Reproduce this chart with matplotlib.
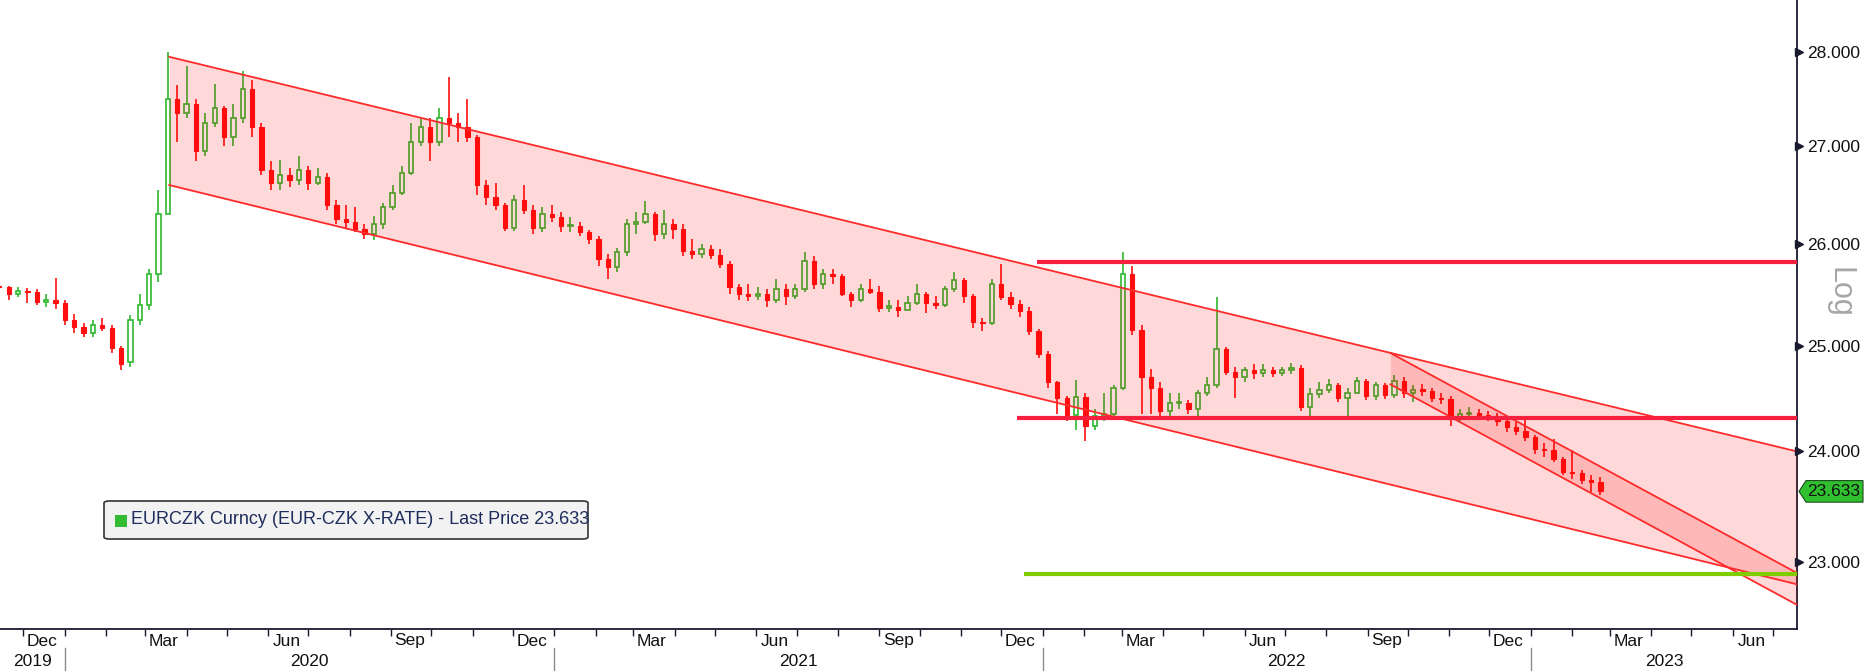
import matplotlib
matplotlib.use("Agg")
import matplotlib.pyplot as plt
import matplotlib.dates as mdates
import matplotlib.transforms as mtransforms
from matplotlib.patches import Polygon, FancyBboxPatch, Rectangle
import numpy as np
import pandas as pd

# ---------------- data (weekly OHLC) ----------------
first_week = "2019-11-11"
opens = [25.58, 25.57, 25.50, 25.53, 25.52, 25.43, 25.45, 25.42, 25.25, 25.18,
         25.12, 25.20, 25.17, 24.98, 24.84, 25.25, 25.40, 25.70, 26.30, 27.50,
         27.35, 27.45, 26.95, 27.25, 27.40, 27.10, 27.30, 27.60, 27.20, 26.75,
         26.62, 26.70, 26.65, 26.75, 26.62, 26.68, 26.40, 26.25, 26.22, 26.15,
         26.10, 26.20, 26.38, 26.52, 26.72, 27.05, 27.20, 27.05, 27.30, 27.25,
         27.20, 27.10, 26.60, 26.48, 26.40, 26.16, 26.45, 26.35, 26.16, 26.30,
         26.27, 26.18, 26.18, 26.12, 26.05, 25.85, 25.77, 25.92, 26.20, 26.22,
         26.30, 26.10, 26.20, 26.15, 25.93, 25.90, 25.95, 25.89, 25.80, 25.57,
         25.50, 25.48, 25.50, 25.45, 25.55, 25.48, 25.55, 25.83, 25.60, 25.70,
         25.68, 25.50, 25.45, 25.55, 25.52, 25.37, 25.38, 25.35, 25.42, 25.50,
         25.42, 25.40, 25.55, 25.64, 25.48, 25.23, 25.22, 25.60, 25.47, 25.41,
         25.34, 25.14, 24.92, 24.65, 24.50, 24.34, 24.51, 24.24, 24.33, 24.35,
         24.60, 25.70, 25.15, 24.70, 24.60, 24.38, 24.45, 24.45, 24.40, 24.55,
         24.62, 24.97, 24.75, 24.70, 24.77, 24.74, 24.77, 24.74, 24.77, 24.79,
         24.42, 24.54, 24.58, 24.62, 24.50, 24.55, 24.66, 24.52, 24.62, 24.53,
         24.66, 24.55, 24.58, 24.57, 24.50, 24.49, 24.30, 24.35, 24.36, 24.34,
         24.32, 24.28, 24.23, 24.19, 24.13, 24.02, 24.01, 23.93, 23.81, 23.80,
         23.74, 23.72]
highs = [25.62, 25.58, 25.57, 25.56, 25.55, 25.50, 25.66, 25.45, 25.31, 25.22,
         25.25, 25.27, 25.20, 25.00, 25.30, 25.50, 25.75, 26.55, 28.00, 27.65,
         27.85, 27.50, 27.35, 27.66, 27.42, 27.45, 27.80, 27.70, 27.25, 26.85,
         26.86, 26.78, 26.90, 26.80, 26.78, 26.72, 26.45, 26.40, 26.38, 26.20,
         26.28, 26.42, 26.60, 26.80, 27.25, 27.30, 27.30, 27.40, 27.73, 27.35,
         27.50, 27.12, 26.65, 26.62, 26.42, 26.50, 26.60, 26.40, 26.38, 26.40,
         26.32, 26.27, 26.22, 26.14, 26.08, 25.90, 25.96, 26.25, 26.32, 26.44,
         26.32, 26.35, 26.25, 26.20, 26.05, 26.00, 25.99, 25.95, 25.83, 25.60,
         25.60, 25.57, 25.55, 25.65, 25.60, 25.60, 25.92, 25.88, 25.75, 25.75,
         25.70, 25.52, 25.60, 25.65, 25.58, 25.45, 25.45, 25.48, 25.60, 25.52,
         25.48, 25.58, 25.72, 25.66, 25.50, 25.27, 25.65, 25.80, 25.52, 25.45,
         25.38, 25.16, 24.95, 24.66, 24.52, 24.67, 24.55, 24.40, 24.55, 24.62,
         25.92, 25.78, 25.20, 24.78, 24.65, 24.55, 24.55, 24.48, 24.58, 24.70,
         25.47, 24.99, 24.80, 24.80, 24.82, 24.82, 24.80, 24.80, 24.83, 24.81,
         24.60, 24.65, 24.68, 24.64, 24.60, 24.70, 24.68, 24.65, 24.64, 24.72,
         24.70, 24.62, 24.63, 24.60, 24.55, 24.52, 24.40, 24.42, 24.40, 24.38,
         24.36, 24.30, 24.27, 24.32, 24.15, 24.08, 24.12, 23.95, 24.01, 23.83,
         23.78, 23.76]
lows = [25.52, 25.45, 25.47, 25.42, 25.40, 25.38, 25.36, 25.20, 25.12, 25.08,
        25.08, 25.14, 24.93, 24.77, 24.80, 25.20, 25.35, 25.62, 26.30, 27.05,
        27.30, 26.85, 26.90, 27.20, 27.00, 27.00, 27.25, 27.10, 26.70, 26.55,
        26.55, 26.58, 26.60, 26.55, 26.60, 26.35, 26.20, 26.15, 26.12, 26.05,
        26.04, 26.15, 26.35, 26.50, 26.70, 27.00, 26.85, 27.00, 27.10, 27.05,
        27.05, 26.50, 26.40, 26.35, 26.13, 26.13, 26.30, 26.10, 26.12, 26.22,
        26.12, 26.12, 26.08, 26.00, 25.78, 25.65, 25.72, 25.88, 26.10, 26.20,
        26.03, 26.05, 26.05, 25.88, 25.85, 25.86, 25.85, 25.76, 25.50, 25.45,
        25.44, 25.45, 25.38, 25.42, 25.40, 25.46, 25.52, 25.55, 25.55, 25.60,
        25.48, 25.38, 25.43, 25.50, 25.33, 25.33, 25.28, 25.35, 25.40, 25.32,
        25.36, 25.38, 25.52, 25.42, 25.17, 25.14, 25.20, 25.45, 25.36, 25.28,
        25.10, 24.88, 24.60, 24.35, 24.28, 24.20, 24.10, 24.20, 24.28, 24.30,
        24.58, 25.10, 24.35, 24.35, 24.32, 24.33, 24.40, 24.35, 24.32, 24.52,
        24.60, 24.72, 24.50, 24.65, 24.68, 24.70, 24.70, 24.71, 24.73, 24.38,
        24.30, 24.50, 24.55, 24.46, 24.30, 24.55, 24.48, 24.48, 24.49, 24.50,
        24.50, 24.46, 24.52, 24.46, 24.44, 24.24, 24.28, 24.30, 24.30, 24.28,
        24.24, 24.18, 24.15, 24.10, 23.98, 23.95, 23.90, 23.78, 23.75, 23.70,
        23.63, 23.60]
closes = [25.57, 25.50, 25.53, 25.52, 25.43, 25.45, 25.42, 25.25, 25.18, 25.12,
          25.20, 25.17, 24.98, 24.82, 25.25, 25.40, 25.70, 26.30, 27.50, 27.35,
          27.45, 26.95, 27.25, 27.40, 27.10, 27.30, 27.60, 27.20, 26.75, 26.62,
          26.70, 26.65, 26.75, 26.62, 26.68, 26.40, 26.25, 26.22, 26.15, 26.10,
          26.20, 26.38, 26.52, 26.72, 27.05, 27.20, 27.05, 27.30, 27.25, 27.20,
          27.10, 26.60, 26.48, 26.40, 26.16, 26.45, 26.35, 26.16, 26.30, 26.27,
          26.18, 26.18, 26.12, 26.05, 25.85, 25.77, 25.92, 26.20, 26.22, 26.30,
          26.10, 26.20, 26.15, 25.93, 25.90, 25.95, 25.89, 25.80, 25.57, 25.50,
          25.48, 25.50, 25.45, 25.55, 25.48, 25.55, 25.83, 25.60, 25.70, 25.68,
          25.50, 25.45, 25.55, 25.52, 25.37, 25.38, 25.35, 25.42, 25.50, 25.42,
          25.40, 25.55, 25.64, 25.48, 25.23, 25.22, 25.60, 25.47, 25.41, 25.34,
          25.14, 24.92, 24.65, 24.50, 24.34, 24.51, 24.24, 24.33, 24.35, 24.60,
          25.70, 25.15, 24.70, 24.60, 24.38, 24.45, 24.45, 24.40, 24.55, 24.62,
          24.97, 24.75, 24.70, 24.77, 24.74, 24.77, 24.74, 24.77, 24.79, 24.42,
          24.54, 24.58, 24.62, 24.50, 24.55, 24.66, 24.52, 24.62, 24.53, 24.66,
          24.55, 24.58, 24.57, 24.50, 24.49, 24.30, 24.35, 24.36, 24.34, 24.32,
          24.28, 24.23, 24.19, 24.13, 24.02, 24.01, 23.93, 23.81, 23.80, 23.74,
          23.72, 23.633]
last_price = 23.633
series_label = "EURCZK Curncy (EUR-CZK X-RATE) - Last Price 23.633"

# trend channel (drawn annotations)
channel_dates = ["2020-03-19", "2023-07-19"]
channel_upper = [27.95, 24.00]
channel_lower = [26.60, 22.80]
wedge_dates = ["2022-09-18", "2023-07-19"]
wedge_upper = [24.93, 22.90]
wedge_lower = [24.63, 22.62]
level_starts = ["2021-12-28", "2021-12-13", "2021-12-18"]
level_values = [25.82, 24.31, 22.89]
level_colors = ["#f7203f", "#f7203f", "#7fcc00"]

y_ticks = [23, 24, 25, 26, 27, 28]
x_range = ["2019-11-13 12:00", "2023-07-19 00:00"]
y_range = [22.41, 28.57]

# ---------------- figure ----------------
W, H = 1865, 671
fig = plt.figure(figsize=(W / 100, H / 100), dpi=100)
ax = fig.add_axes([0, 42 / H, 1797 / W, 629 / H])
FONT = "Liberation Sans"
DARK = "#1a1a2e"

dates = pd.date_range(first_week, periods=len(closes), freq="7D") + pd.Timedelta(days=2)
xd = mdates.date2num(dates)
o = np.array(opens); h = np.array(highs); l = np.array(lows); c = np.array(closes)
up = c >= o
GREEN = "#2fb82f"
RED = "#ff1010"
ax.vlines(xd[up], l[up], h[up], color=GREEN, lw=1.2, zorder=2)
ax.vlines(xd[~up], l[~up], h[~up], color=RED, lw=1.2, zorder=2)
bw = 3.2
ax.bar(xd[up], np.maximum(c[up] - o[up], 0.012), bottom=o[up], width=bw,
       facecolor="white", edgecolor=GREEN, lw=1.2, zorder=3)
ax.bar(xd[~up], np.maximum(o[~up] - c[~up], 0.012), bottom=c[~up], width=bw,
       facecolor=RED, edgecolor=RED, lw=0.8, zorder=3)

# channel + wedge (fill drawn above candles, translucent)
cd = mdates.date2num(pd.to_datetime(channel_dates))
ax.fill_between(cd, channel_lower, channel_upper, color="red", alpha=0.15, lw=0, zorder=4)
ax.plot(cd, channel_upper, color="#ff2a2a", lw=1.3, zorder=5)
ax.plot(cd, channel_lower, color="#ff2a2a", lw=1.3, zorder=5)
wd = mdates.date2num(pd.to_datetime(wedge_dates))
ax.fill_between(wd, wedge_lower, wedge_upper, color="red", alpha=0.15, lw=0, zorder=4)
ax.plot(wd, wedge_upper, color="#ff2a2a", lw=1.3, zorder=5)
ax.plot(wd, wedge_lower, color="#ff2a2a", lw=1.3, zorder=5)

xr = mdates.date2num(pd.to_datetime(x_range))
for s, v, col in zip(level_starts, level_values, level_colors):
    ax.hlines(v, mdates.date2num(pd.Timestamp(s)), xr[1], color=col, lw=3, zorder=6)

ax.set_xlim(xr)
ax.set_yscale("log")
ax.set_ylim(y_range)

# spines
for s in ["left", "top"]:
    ax.spines[s].set_visible(False)
for s in ["right", "bottom"]:
    ax.spines[s].set_color(DARK)
    ax.spines[s].set_linewidth(1.3)

# y axis on right
ax.yaxis.tick_right()
ax.yaxis.set_major_locator(matplotlib.ticker.FixedLocator(y_ticks))
ax.yaxis.set_minor_locator(matplotlib.ticker.NullLocator())
ax.set_yticklabels([f"{t:.3f}" for t in y_ticks])
ax.tick_params(axis="y", length=0, pad=7.5, labelsize=12.5, labelcolor="#111111")
for lab in ax.get_yticklabels():
    lab.set_fontfamily(FONT)
ytrans = mtransforms.blended_transform_factory(ax.transAxes, ax.transData)
ax.plot([1.0012] * len(y_ticks), y_ticks, ls="none", marker=">", ms=5.5, color=DARK,
        transform=ytrans, clip_on=False, zorder=10)

# x axis: monthly ticks, quarterly labels mid-month, years below
ax.xaxis.set_major_locator(mdates.MonthLocator())
ax.xaxis.set_minor_locator(matplotlib.ticker.NullLocator())
ax.tick_params(axis="x", length=5, width=1, color=DARK, labelbottom=False)
xtrans = mtransforms.blended_transform_factory(ax.transData, fig.transFigure)
months = pd.date_range("2019-12-01", "2023-06-01", freq="3MS")
for m in months:
    ax.text(mdates.date2num(m + pd.Timedelta(days=14)), 1 - 641 / H, m.strftime("%b"),
            transform=xtrans, ha="center", va="center", fontsize=12.5, family=FONT,
            color="#111111", clip_on=False)
years = [2019, 2020, 2021, 2022, 2023]
for y in years:
    a = max(mdates.date2num(pd.Timestamp(f"{y}-01-01")), xr[0])
    b = min(mdates.date2num(pd.Timestamp(f"{y + 1}-01-01")), xr[1])
    ax.text((a + b) / 2, 1 - 661 / H, str(y), transform=xtrans, ha="center", va="center",
            fontsize=12.5, family=FONT, color="#111111", clip_on=False)
    if y > 2019:
        xs = mdates.date2num(pd.Timestamp(f"{y}-01-01"))
        ax.plot([xs, xs], [0, 1 - 648 / H], transform=xtrans, color="#8a8a8a", lw=1,
                clip_on=False)

# "Log" label
fig.text(1840 / W, 1 - 292 / H, "Log", rotation=-90, ha="center", va="center",
         fontsize=22, family=FONT, color="#a6a6a6")

# last price tag
yc = ax.transData.transform((xr[0], last_price))[1]
ident = mtransforms.IdentityTransform()
tag = Polygon([(1799, yc), (1806, yc + 10.8), (1863, yc + 10.8), (1863, yc - 10.8),
               (1806, yc - 10.8)], closed=True, facecolor="#2fbf2f", edgecolor="#1d4d1d",
              lw=0.8, transform=ident)
fig.add_artist(tag)
fig.text(1807, yc, f"{last_price:.3f}", transform=ident, ha="left", va="center",
         fontsize=12.5, family=FONT, color="#111111")

# legend box
box = FancyBboxPatch((104 / W, 1 - 539 / H), 484 / W, 38 / H,
                     boxstyle="round,pad=0,rounding_size=0.003", transform=fig.transFigure,
                     facecolor="#f2f2f2", edgecolor="#333333", lw=1.2)
fig.add_artist(box)
fig.add_artist(Rectangle((115 / W, 1 - 527 / H), 12 / W, 12 / H, transform=fig.transFigure,
                         facecolor="#33bb33", edgecolor="none"))
fig.text(131.5 / W, 1 - 520 / H, series_label, ha="left", va="center", fontsize=13,
         family=FONT, color="#1f2d5c")

fig.savefig("out.png", dpi=100)
